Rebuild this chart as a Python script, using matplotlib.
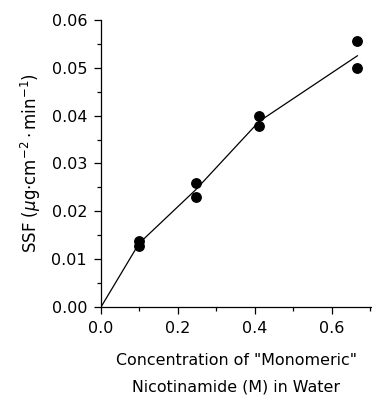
import numpy as np
import matplotlib.pyplot as plt
from matplotlib.ticker import MultipleLocator, FormatStrFormatter

# measured points (two replicates per concentration)
conc = [0.099, 0.099, 0.246, 0.246, 0.411, 0.411, 0.666, 0.666]
ssf = [0.0137, 0.0128, 0.0260, 0.0230, 0.0400, 0.0378, 0.0555, 0.0500]

# connecting line
line_x = [0.0, 0.099, 0.246, 0.411, 0.666]
line_y = [0.0, 0.0133, 0.0245, 0.0388, 0.0525]

plt.rcParams['font.family'] = ['DejaVu Sans']

fig = plt.figure(figsize=(3.72, 3.98), dpi=100)
ax = fig.add_axes([0.2715, 0.2286, 0.7285, 0.7214])

ax.plot(line_x, line_y, color='black', linewidth=0.9)
ax.plot(conc, ssf, 'o', color='black', markersize=6.8)

ax.set_xlim(0, 0.704)
ax.set_ylim(0, 0.06)
ax.xaxis.set_major_locator(MultipleLocator(0.2))
ax.xaxis.set_minor_locator(MultipleLocator(0.1))
ax.yaxis.set_major_locator(MultipleLocator(0.01))
ax.yaxis.set_minor_locator(MultipleLocator(0.005))
ax.xaxis.set_major_formatter(FormatStrFormatter('%.1f'))
ax.yaxis.set_major_formatter(FormatStrFormatter('%.2f'))

for s in ['top', 'right']:
    ax.spines[s].set_visible(False)
ax.spines['left'].set_linewidth(0.9)
ax.spines['bottom'].set_linewidth(0.9)
ax.tick_params(which='major', direction='out', length=5, width=0.9, labelsize=11.5, pad=5)
ax.tick_params(which='minor', direction='out', length=3, width=0.9)

ax.set_ylabel(r'SSF ($\mu$g$\cdot$cm$^{-2}\cdot$min$^{-1}$)', fontsize=12, labelpad=6)
ax.set_xlabel('Concentration of "Monomeric"\nNicotinamide (M) in Water',
              fontsize=11.4, linespacing=2.0, labelpad=12)

plt.savefig('out.png', dpi=100)
